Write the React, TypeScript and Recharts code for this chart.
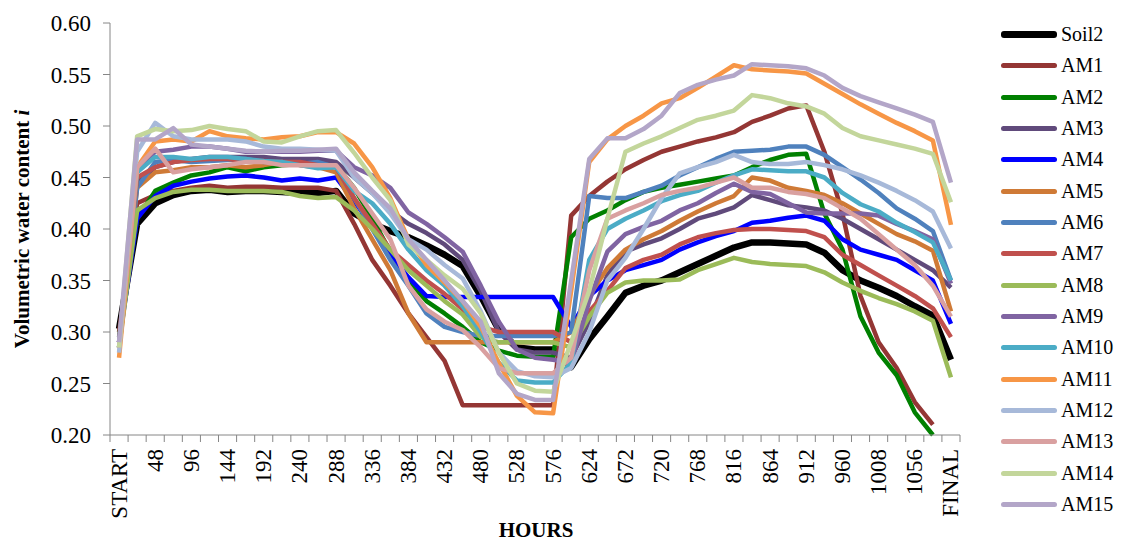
import React from 'react';
import { LineChart, Line, XAxis, YAxis } from 'recharts';

const hours = [
  'START', '24', '48', '72', '96', '120', '144', '168', '192', '216', '240', '264',
  '288', '312', '336', '360', '384', '408', '432', '456', '480', '504', '528', '552',
  '576', '600', '624', '648', '672', '696', '720', '744', '768', '792', '816', '840',
  '864', '888', '912', '936', '960', '984', '1008', '1032', '1056', '1080', 'FINAL'
];

const yTicks = [0.2, 0.25, 0.3, 0.35, 0.4, 0.45, 0.5, 0.55, 0.6];

const soil2 = [0.303, 0.405, 0.425, 0.433, 0.437, 0.438, 0.436, 0.437, 0.437, 0.436, 0.435, 0.435, 0.437, 0.415, 0.405, 0.398, 0.392, 0.384, 0.375, 0.364, 0.335, 0.302, 0.285, 0.283, 0.283, 0.266, 0.293, 0.315, 0.338, 0.345, 0.35, 0.358, 0.366, 0.374, 0.382, 0.387, 0.387, 0.386, 0.385, 0.377, 0.36, 0.35, 0.343, 0.335, 0.325, 0.316, 0.273];
const am1 = [0.3, 0.425, 0.433, 0.437, 0.44, 0.442, 0.44, 0.441, 0.441, 0.44, 0.44, 0.44, 0.437, 0.405, 0.37, 0.345, 0.318, 0.295, 0.272, 0.229, 0.229, 0.229, 0.229, 0.229, 0.229, 0.413, 0.432, 0.446, 0.458, 0.467, 0.475, 0.48, 0.485, 0.489, 0.494, 0.504, 0.51, 0.517, 0.52, 0.475, 0.415, 0.335, 0.29, 0.265, 0.232, 0.21, null];
const am2 = [0.295, 0.41, 0.437, 0.445, 0.452, 0.455, 0.46, 0.456, 0.46, 0.462, 0.463, 0.463, 0.462, 0.44, 0.41, 0.378, 0.35, 0.33, 0.318, 0.305, 0.29, 0.282, 0.277, 0.276, 0.276, 0.392, 0.41, 0.418, 0.428, 0.436, 0.44, 0.443, 0.446, 0.449, 0.452, 0.46, 0.467, 0.472, 0.473, 0.415, 0.38, 0.315, 0.28, 0.258, 0.222, 0.2, null];
const am3 = [0.29, 0.445, 0.46, 0.465, 0.468, 0.47, 0.47, 0.47, 0.47, 0.468, 0.468, 0.468, 0.465, 0.45, 0.435, 0.418, 0.405, 0.396, 0.385, 0.37, 0.34, 0.3, 0.283, 0.28, 0.28, 0.275, 0.31, 0.355, 0.378, 0.385, 0.391, 0.4, 0.41, 0.415, 0.421, 0.433, 0.428, 0.423, 0.421, 0.418, 0.41, 0.4, 0.39, 0.38, 0.37, 0.36, 0.343];
const am4 = [0.29, 0.41, 0.432, 0.442, 0.446, 0.449, 0.451, 0.452, 0.45, 0.447, 0.449, 0.447, 0.45, 0.427, 0.403, 0.375, 0.353, 0.335, 0.334, 0.334, 0.334, 0.334, 0.334, 0.334, 0.334, 0.305, 0.335, 0.35, 0.36, 0.365, 0.37, 0.38, 0.387, 0.393, 0.398, 0.406, 0.408, 0.411, 0.413, 0.408, 0.39, 0.38, 0.375, 0.37, 0.36, 0.35, 0.308];
const am5 = [0.285, 0.44, 0.455, 0.457, 0.46, 0.46, 0.462, 0.46, 0.462, 0.465, 0.462, 0.46, 0.455, 0.42, 0.39, 0.36, 0.318, 0.29, 0.29, 0.29, 0.29, 0.29, 0.29, 0.29, 0.29, 0.3, 0.335, 0.362, 0.38, 0.39, 0.398, 0.408, 0.417, 0.425, 0.432, 0.45, 0.447, 0.44, 0.437, 0.433, 0.425, 0.415, 0.405, 0.395, 0.388, 0.379, 0.32];
const am6 = [0.285, 0.44, 0.465, 0.467, 0.465, 0.466, 0.467, 0.468, 0.465, 0.465, 0.463, 0.465, 0.46, 0.43, 0.4, 0.37, 0.345, 0.318, 0.305, 0.3, 0.296, 0.296, 0.296, 0.296, 0.296, 0.3, 0.432, 0.43, 0.43, 0.436, 0.442, 0.452, 0.46, 0.468, 0.475, 0.476, 0.477, 0.48, 0.48, 0.472, 0.46, 0.448, 0.435, 0.42, 0.41, 0.398, 0.35];
const am7 = [0.29, 0.45, 0.46, 0.465, 0.467, 0.468, 0.468, 0.466, 0.466, 0.465, 0.465, 0.462, 0.46, 0.43, 0.405, 0.38, 0.365, 0.35, 0.337, 0.322, 0.305, 0.3, 0.3, 0.3, 0.3, 0.29, 0.32, 0.34, 0.362, 0.37, 0.375, 0.385, 0.392, 0.396, 0.399, 0.4, 0.4, 0.399, 0.398, 0.392, 0.375, 0.365, 0.355, 0.345, 0.335, 0.323, 0.295];
const am8 = [0.285, 0.418, 0.43, 0.436, 0.438, 0.438, 0.437, 0.437, 0.437, 0.436, 0.432, 0.43, 0.431, 0.418, 0.4, 0.38, 0.36, 0.345, 0.33, 0.317, 0.295, 0.29, 0.29, 0.29, 0.29, 0.285, 0.315, 0.338, 0.348, 0.35, 0.35, 0.351, 0.36, 0.366, 0.372, 0.368, 0.366, 0.365, 0.364, 0.358, 0.348, 0.34, 0.333, 0.327, 0.32, 0.311, 0.256];
const am9 = [0.29, 0.46, 0.475, 0.477, 0.48, 0.48, 0.478, 0.475, 0.475, 0.475, 0.475, 0.476, 0.476, 0.46, 0.452, 0.44, 0.416, 0.405, 0.392, 0.378, 0.345, 0.31, 0.283, 0.275, 0.273, 0.27, 0.33, 0.378, 0.395, 0.402, 0.408, 0.418, 0.425, 0.435, 0.444, 0.436, 0.434, 0.425, 0.416, 0.415, 0.415, 0.415, 0.413, 0.405, 0.398, 0.39, 0.347];
const am10 = [0.285, 0.455, 0.47, 0.47, 0.468, 0.47, 0.47, 0.468, 0.466, 0.465, 0.462, 0.459, 0.46, 0.437, 0.425, 0.405, 0.38, 0.36, 0.345, 0.325, 0.3, 0.27, 0.253, 0.251, 0.251, 0.27, 0.37, 0.4, 0.41, 0.418, 0.427, 0.433, 0.437, 0.445, 0.452, 0.458, 0.457, 0.456, 0.456, 0.45, 0.435, 0.424, 0.417, 0.406, 0.397, 0.387, 0.35];
const am11 = [0.275, 0.46, 0.485, 0.487, 0.485, 0.495, 0.49, 0.488, 0.487, 0.489, 0.49, 0.494, 0.494, 0.483, 0.46, 0.43, 0.39, 0.365, 0.348, 0.33, 0.305, 0.27, 0.238, 0.222, 0.221, 0.34, 0.465, 0.487, 0.5, 0.51, 0.522, 0.527, 0.537, 0.548, 0.559, 0.555, 0.554, 0.553, 0.551, 0.541, 0.531, 0.521, 0.512, 0.503, 0.495, 0.486, 0.404];
const am12 = [0.28, 0.475, 0.503, 0.49, 0.487, 0.487, 0.487, 0.485, 0.48, 0.478, 0.478, 0.477, 0.476, 0.45, 0.435, 0.415, 0.39, 0.38, 0.365, 0.352, 0.32, 0.28, 0.262, 0.257, 0.256, 0.265, 0.3, 0.35, 0.372, 0.4, 0.43, 0.454, 0.46, 0.465, 0.472, 0.465, 0.463, 0.463, 0.465, 0.462, 0.458, 0.452, 0.445, 0.437, 0.428, 0.417, 0.381];
const am13 = [0.285, 0.46, 0.478, 0.455, 0.458, 0.46, 0.462, 0.465, 0.465, 0.462, 0.462, 0.462, 0.462, 0.44, 0.415, 0.39, 0.345, 0.322, 0.31, 0.302, 0.285, 0.265, 0.26, 0.26, 0.26, 0.275, 0.36, 0.41, 0.418, 0.425, 0.433, 0.437, 0.44, 0.445, 0.45, 0.44, 0.44, 0.436, 0.434, 0.43, 0.42, 0.41, 0.395, 0.38, 0.365, 0.345, 0.315];
const am14 = [0.285, 0.49, 0.497, 0.495, 0.496, 0.5, 0.497, 0.495, 0.485, 0.484, 0.49, 0.495, 0.496, 0.474, 0.45, 0.428, 0.385, 0.37, 0.355, 0.342, 0.318, 0.28, 0.25, 0.243, 0.242, 0.29, 0.34, 0.41, 0.475, 0.483, 0.49, 0.498, 0.506, 0.51, 0.515, 0.53, 0.527, 0.522, 0.519, 0.512, 0.498, 0.49, 0.486, 0.482, 0.478, 0.473, 0.426];
const am15 = [0.29, 0.487, 0.487, 0.498, 0.482, 0.48, 0.478, 0.476, 0.475, 0.476, 0.476, 0.477, 0.478, 0.455, 0.437, 0.42, 0.39, 0.37, 0.35, 0.33, 0.31, 0.26, 0.24, 0.234, 0.234, 0.35, 0.468, 0.488, 0.488, 0.497, 0.51, 0.532, 0.54, 0.545, 0.549, 0.56, 0.559, 0.558, 0.556, 0.549, 0.537, 0.529, 0.523, 0.517, 0.511, 0.504, 0.445];

const series = [
  { name: 'Soil2', values: soil2, color: '#000000', width: 6.5 },
  { name: 'AM1', values: am1, color: '#943634', width: 4.5 },
  { name: 'AM2', values: am2, color: '#008000', width: 4.5 },
  { name: 'AM3', values: am3, color: '#604A7B', width: 4.5 },
  { name: 'AM4', values: am4, color: '#0000FF', width: 4.5 },
  { name: 'AM5', values: am5, color: '#CF7A36', width: 4.5 },
  { name: 'AM6', values: am6, color: '#4F81BD', width: 4.5 },
  { name: 'AM7', values: am7, color: '#C0504D', width: 4.5 },
  { name: 'AM8', values: am8, color: '#9BBB59', width: 4.5 },
  { name: 'AM9', values: am9, color: '#8064A2', width: 4.5 },
  { name: 'AM10', values: am10, color: '#4BACC6', width: 4.5 },
  { name: 'AM11', values: am11, color: '#F79646', width: 4.5 },
  { name: 'AM12', values: am12, color: '#A7B9D9', width: 4.5 },
  { name: 'AM13', values: am13, color: '#D9A0A0', width: 4.5 },
  { name: 'AM14', values: am14, color: '#C3D69B', width: 4.5 },
  { name: 'AM15', values: am15, color: '#B3A6C8', width: 4.5 },
];

const chartData = hours.map((h, i) => {
  const row: Record<string, number | string | null> = { idx: i, hour: h };
  series.forEach(s => { row[s.name] = s.values[i]; });
  return row;
});

// labels on every other category, tick marks on the category boundaries (Excel style)
const labelTicks = hours.map((_, i) => i).filter(i => i % 2 === 0);
const boundaryTicks = hours.map((_, i) => i - 0.5).concat([hours.length - 0.5]);
const xTicks = [...boundaryTicks, ...labelTicks].sort((a, b) => a - b);

const FONT = '"Liberation Serif", "DejaVu Serif", serif';
const AXIS_COLOR = '#868686';

const HourTick = (props: any) => {
  const { x, y, payload } = props;
  const v = payload.value as number;
  if (!Number.isInteger(v)) {
    return <line x1={x} x2={x} y1={y} y2={y + 7} stroke={AXIS_COLOR} strokeWidth={1} />;
  }
  const ty = y + 14;
  return (
    <text x={x} y={ty} transform={`rotate(-90, ${x}, ${ty})`} textAnchor="end" dominantBaseline="central"
      fontFamily={FONT} fontSize={23} fill="#000">
      {hours[v]}
    </text>
  );
};

export default function App() {
  return (
    <div style={{ position: 'absolute', left: 0, top: 0, width: 1124, height: 543, background: '#fff' }}>
      <LineChart width={1124} height={543} data={chartData} margin={{ top: 23, right: 164, bottom: 0, left: 0 }}>
        <XAxis type="number" dataKey="idx" domain={[-0.5, 46.5]} ticks={xTicks} height={108}
          tick={HourTick} tickLine={false} tickSize={0} tickMargin={0} interval={0}
          stroke={AXIS_COLOR} allowDataOverflow />
        <YAxis type="number" domain={[0.2, 0.6]} ticks={yTicks} width={110} tickSize={7} tickMargin={12}
          stroke={AXIS_COLOR} tickFormatter={(v: number) => v.toFixed(2)}
          tick={{ fontFamily: FONT, fontSize: 23, fill: '#000' }} />
        {series.map(s => (
          <Line key={s.name} type="linear" dataKey={s.name} stroke={s.color}
            strokeWidth={s.width} strokeLinejoin="round" dot={false} activeDot={false}
            isAnimationActive={false} />
        ))}
      </LineChart>
      <svg width={1124} height={543} style={{ position: 'absolute', left: 0, top: 0, pointerEvents: 'none' }}>
        <text x={22} y={229} transform="rotate(-90, 22, 229)" textAnchor="middle" dominantBaseline="central"
          fontFamily={FONT} fontSize={21} fontWeight="bold" fill="#000">
          Volumetric water content <tspan fontStyle="italic">i</tspan>
        </text>
        <text x={536} y={537} textAnchor="middle" fontFamily={FONT} fontSize={21} fontWeight="bold" fill="#000">
          HOURS
        </text>
      </svg>
      <div style={{ position: 'absolute', left: 1001, top: 19, fontFamily: FONT, fontSize: 20 }}>
        {series.map(s => (
          <div key={s.name} style={{ height: 31.33, display: 'flex', alignItems: 'center' }}>
            <div style={{ width: 56, height: s.width === 6.5 ? 7 : 5, borderRadius: 3, background: s.color }} />
            <span style={{ marginLeft: 4, color: '#000' }}>{s.name}</span>
          </div>
        ))}
      </div>
    </div>
  );
}
